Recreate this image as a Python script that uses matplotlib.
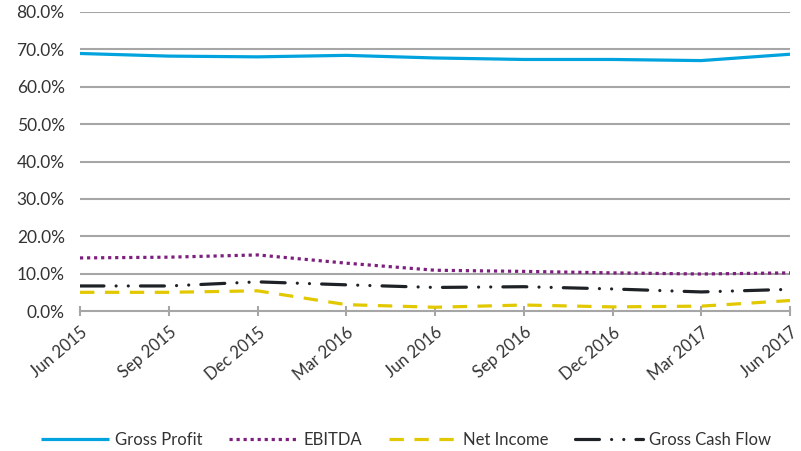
import matplotlib
matplotlib.use("Agg")
import matplotlib.pyplot as plt
from matplotlib.ticker import FuncFormatter

# quarters
quarters = ["Jun 2015", "Sep 2015", "Dec 2015", "Mar 2016", "Jun 2016",
            "Sep 2016", "Dec 2016", "Mar 2017", "Jun 2017"]

# margins in percent
gross_profit = [68.9, 68.2, 68.0, 68.4, 67.7, 67.3, 67.3, 67.0, 68.7]
ebitda = [14.2, 14.4, 15.0, 12.8, 10.9, 10.6, 10.2, 9.9, 10.2]
net_income = [5.0, 5.0, 5.4, 1.7, 1.0, 1.6, 1.1, 1.3, 2.8]
gross_cash_flow = [6.7, 6.7, 7.8, 7.0, 6.3, 6.5, 5.9, 5.1, 5.8]

y_ticks = [0, 10, 20, 30, 40, 50, 60, 70, 80]

plt.rcParams['font.family'] = ['Lato', 'DejaVu Sans']
txt_color = '#333333'
grid_color = '#A6A6A6'

fig = plt.figure(figsize=(8.01, 4.51), dpi=100)
ax = fig.add_axes([80/801, 1 - 311/451, 710/801, 299/451])

x = list(range(len(quarters)))
lw = 2.3
ax.plot(x, gross_profit, color='#00A3DD', lw=lw, label='Gross Profit', solid_capstyle='butt')
ax.plot(x, ebitda, color='#7E1F80', lw=lw, linestyle=(0, (1, 1.2)), label='EBITDA',
        dash_capstyle='butt')
ax.plot(x, net_income, color='#E2C800', lw=lw, linestyle=(0, (4.5, 3.3)), label='Net Income',
        dash_capstyle='butt')
ax.plot(x, gross_cash_flow, color='#1E2226', lw=lw,
        linestyle=(0, (7.5, 3.8, 0.01, 3.8, 0.01, 3.8)), label='Gross Cash Flow',
        dash_capstyle='round')

ax.set_xlim(0, len(quarters) - 1)
ax.set_ylim(0, 80)
ax.set_yticks(y_ticks)
ax.yaxis.set_major_formatter(FuncFormatter(lambda v, p: f"{v:.1f}%"))
ax.set_xticks(x)
ax.set_xticklabels(quarters, rotation=40, ha='right', rotation_mode='anchor')

for y in y_ticks[1:]:
    ax.axhline(y, color=grid_color, lw=1.5, zorder=0)

for s in ['top', 'right', 'left']:
    ax.spines[s].set_visible(False)
ax.spines['bottom'].set_color(grid_color)
ax.spines['bottom'].set_linewidth(1.5)

ax.tick_params(axis='y', length=0, pad=11, labelsize=12.5, labelcolor=txt_color)
ax.tick_params(axis='x', direction='inout', length=7, width=1.5, color=grid_color,
               pad=6, labelsize=12, labelcolor=txt_color)

leg = fig.legend(loc='center', bbox_to_anchor=(406/801, 1 - 440/451), ncol=4, frameon=False,
                 handlelength=4.1, columnspacing=1.6, handletextpad=0.35,
                 fontsize=12)
for t in leg.get_texts():
    t.set_color(txt_color)

fig.savefig('out.png', dpi=100)
